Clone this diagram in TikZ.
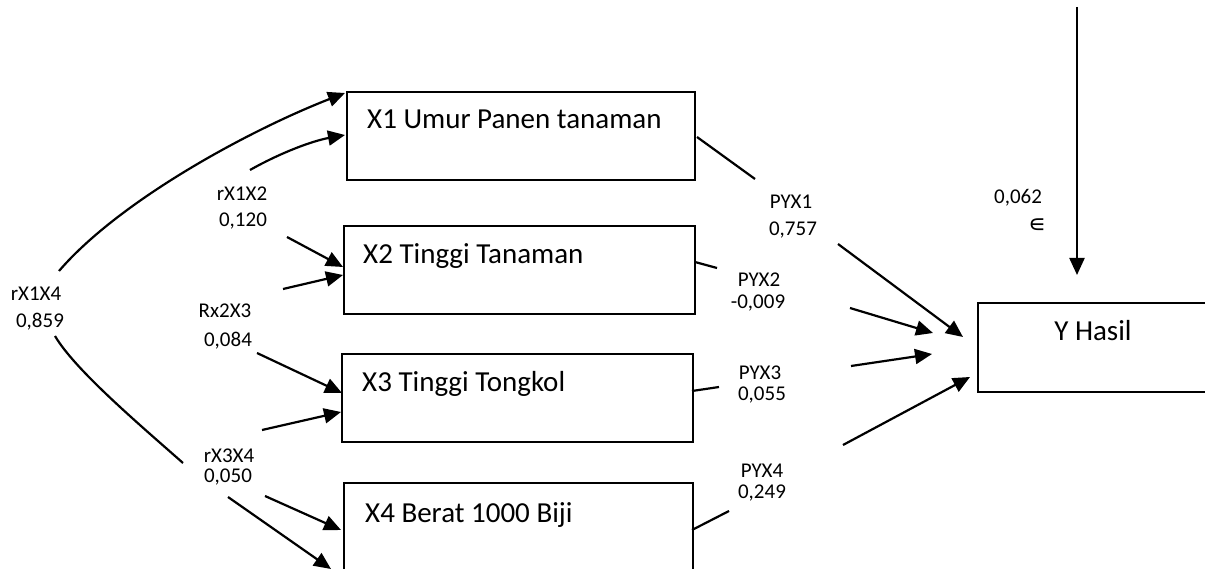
\documentclass[tikz,border=0pt]{standalone}
\usepackage{fontspec}
\setmainfont{Carlito}
\newfontfamily\symfont{DejaVu Sans}
\usetikzlibrary{arrows.meta}
\begin{document}
\begin{tikzpicture}[x=1pt,y=-1pt,
  box/.style={draw,line width=1.6pt,anchor=north west,inner sep=0pt},
  maintxt/.style={anchor=base west,inner sep=0pt,font=\fontsize{29}{34}\selectfont},
  lbl/.style={anchor=base,inner sep=0pt,font=\fontsize{21}{25}\selectfont},
  conn/.style={line width=2.2pt},
  arr/.style={conn,-{Triangle[length=17pt,width=15pt]}}]
\clip (0,0) rectangle (1205,569);
% boxes
\node[box,minimum width=348pt,minimum height=88pt] (x1) at (346,91) {};
\node[box,minimum width=351pt,minimum height=88pt] (x2) at (343,225) {};
\node[box,minimum width=351pt,minimum height=88pt] (x3) at (341,353) {};
\node[box,minimum width=349pt,minimum height=120pt] (x4) at (343,482) {};
\node[box,minimum width=260pt,minimum height=89pt] (y) at (977,302) {};
% box texts
\node[maintxt] (t1) at (367,129) {X1 Umur Panen tanaman};
\node[maintxt] (t2) at (363,264) {X2 Tinggi Tanaman};
\node[maintxt] (t3) at (362,391) {X3 Tinggi Tongkol};
\node[maintxt] (t4) at (365,522) {X4 Berat 1000 Biji};
\node[maintxt,anchor=base] (ty) at (1093,341) {Y Hasil};
% labels
\node[lbl] (l1a) at (36,301) {rX1X4};
\node[lbl] (l1b) at (40,327) {0,859};
\node[lbl] (l2a) at (242,201) {rX1X2};
\node[lbl] (l2b) at (243,227) {0,120};
\node[lbl] (l3a) at (225,318) {Rx2X3};
\node[lbl] (l3b) at (228,346) {0,084};
\node[lbl] (l4a) at (229,462) {rX3X4};
\node[lbl] (l4b) at (228,482) {0,050};
\node[lbl] (m1a) at (791,209) {PYX1};
\node[lbl] (m1b) at (793,236) {0,757};
\node[lbl] (m2a) at (759,287) {PYX2};
\node[lbl] (m2b) at (758,309) {-0,009};
\node[lbl] (m3a) at (760,379) {PYX3};
\node[lbl] (m3b) at (762,400) {0,055};
\node[lbl] (m4a) at (762,477) {PYX4};
\node[lbl] (m4b) at (762,498) {0,249};
\node[lbl] (ea) at (1018,204) {0,062};
\node[lbl,font=\symfont\fontsize{25}{28}\selectfont] (eb) at (1037,233) {∊};
% coordinates
\coordinate (p1s) at (59,271);  \coordinate (p1e) at (345,93);
\coordinate (p2s) at (250,170); \coordinate (p2e) at (345,135);
\coordinate (p3s) at (287,237); \coordinate (p3e) at (343,267);
\coordinate (p4s) at (283,289); \coordinate (p4e) at (343,275);
\coordinate (p5s) at (257,353); \coordinate (p5e) at (342,393);
\coordinate (p6s) at (262,430); \coordinate (p6e) at (341,412);
\coordinate (p7s) at (55,336);  \coordinate (p7e) at (183,463);
\coordinate (p8s) at (265,496); \coordinate (p8e) at (341,530);
\coordinate (p9s) at (228,497); \coordinate (p9e) at (331,569);
\coordinate (q1a) at (697,137); \coordinate (q1b) at (755,179);
\coordinate (q1c) at (838,244); \coordinate (q1e) at (963,337);
\coordinate (q2a) at (695,262); \coordinate (q2b) at (717,268);
\coordinate (q2c) at (850,308); \coordinate (q2e) at (933,333);
\coordinate (q3a) at (692,391); \coordinate (q3b) at (719,387);
\coordinate (q3c) at (851,366); \coordinate (q3e) at (932,354);
\coordinate (q4a) at (692,530); \coordinate (q4b) at (729,511);
\coordinate (q4c) at (843,445); \coordinate (q4e) at (970,377);
\coordinate (e1) at (1077,7);   \coordinate (e2) at (1077,275);
% left connectors
\draw[arr] (p1s) .. controls (120,200) and (250,130) .. (p1e);
\draw[arr] (p2s) .. controls (280,153) and (312,141) .. (p2e);
\draw[arr] (p3s) -- (p3e);
\draw[arr] (p4s) -- (p4e);
\draw[arr] (p5s) -- (p5e);
\draw[arr] (p6s) -- (p6e);
\draw[conn] (p7s) .. controls (75,370) and (140,425) .. (p7e);
\draw[arr] (p8s) -- (p8e);
\draw[arr] (p9s) -- (p9e);
% right connectors
\draw[conn] (q1a) -- (q1b);
\draw[arr] (q1c) -- (q1e);
\draw[conn] (q2a) -- (q2b);
\draw[arr] (q2c) -- (q2e);
\draw[conn] (q3a) -- (q3b);
\draw[arr] (q3c) -- (q3e);
\draw[conn] (q4a) -- (q4b);
\draw[arr] (q4c) -- (q4e);
\draw[arr] (e1) -- (e2);
\end{tikzpicture}
\end{document}
